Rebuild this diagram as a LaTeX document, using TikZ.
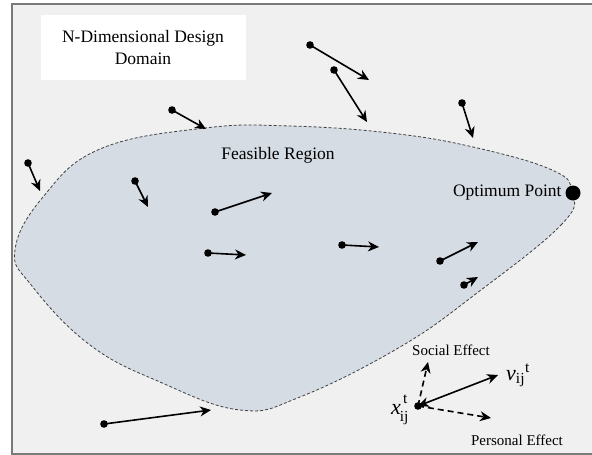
\documentclass[tikz,border=0pt]{standalone}
\usepackage{fontspec}
\setmainfont{Liberation Serif}
\usetikzlibrary{arrows.meta,calc,positioning}
\definecolor{domaingray}{HTML}{F0F0F0}
\definecolor{feasblue}{HTML}{D6DCE4}
\definecolor{framegray}{HTML}{7A7A7A}
\tikzset{
  move/.style={line width=1.6pt,-{Stealth[length=11pt,width=10pt,inset=3.5pt]}},
  effect/.style={move,dash pattern=on 6pt off 4pt},
  bound/.style={draw=black!75,line width=0.8pt,dash pattern=on 3pt off 2pt},
  lbl/.style={font=\fontsize{17.5}{22}\selectfont},
  small/.style={font=\fontsize{15}{18}\selectfont},
  sym/.style={inner sep=0pt,font=\fontsize{22}{24}\selectfont}
}
\newcommand{\particle}[1]{\fill (#1) circle (3.8pt)}
\begin{document}
\begin{tikzpicture}[x=1pt,y=-1pt]
\useasboundingbox (0,0) rectangle (592,455);
\fill[white] (0,0) rectangle (592,455);
\fill[domaingray] (12,3) rectangle (592,454);
\draw[framegray,line width=2pt] (592,3.5) -- (12,3.5) -- (12,454) -- (592,454);
\node[fill=white,minimum width=205pt,minimum height=65pt,align=center,lbl] (domain) at (143,47.5) {N-Dimensional Design\\Domain};
% feasible region
\draw[bound,fill=feasblue] plot[smooth cycle,tension=0.7] coordinates {
  (572,192) (562,224) (477,293) (400,347) (300,397) (240,410) (160,382)
  (90,345) (32,286) (15,250) (43,197) (100,149) (205,128) (290,126)
  (390,133) (473,147) (552,170)};
\node[lbl] (feas) at (278,155) {Feasible Region};
\coordinate (O) at (573,193);
\fill (O) circle (7.5pt);
\node[lbl,left=8pt of O] (opt) {Optimum Point};
% particles and their moves
\coordinate (p1) at (172,110);  \coordinate (q1) at (206,129);
\coordinate (p2) at (28,163);   \coordinate (q2) at (40,191);
\coordinate (p3) at (135,181);  \coordinate (q3) at (148,207);
\coordinate (p4) at (215,212);  \coordinate (q4) at (272,193);
\coordinate (p5) at (310,45);   \coordinate (q5) at (369,80);
\coordinate (p6) at (334,70);   \coordinate (q6) at (367,122);
\coordinate (p7) at (462,103);  \coordinate (q7) at (473,138);
\coordinate (p8) at (208,253);  \coordinate (q8) at (246,255);
\coordinate (p9) at (104,424);  \coordinate (q9) at (211,410);
\coordinate (p10) at (342,245); \coordinate (q10) at (379,247);
\coordinate (p11) at (440,261); \coordinate (q11) at (478,242);
\coordinate (p12) at (464,285); \coordinate (q12) at (478,277);
\draw[move] (p1) -- (q1);
\draw[move] (p2) -- (q2);
\draw[move] (p3) -- (q3);
\draw[move] (p4) -- (q4);
\draw[move] (p5) -- (q5);
\draw[move] (p6) -- (q6);
\draw[move] (p7) -- (q7);
\draw[move] (p8) -- (q8);
\draw[move] (p9) -- (q9);
\draw[move] (p10) -- (q10);
\draw[move] (p11) -- (q11);
\draw[move] (p12) -- (q12);
\particle{p1}; \particle{p2}; \particle{p3}; \particle{p4};
\particle{p5}; \particle{p6}; \particle{p7}; \particle{p8};
\particle{p9}; \particle{p10}; \particle{p11}; \particle{p12};
% velocity update legend
\coordinate (X) at (418,406);
\coordinate (V) at (498,375);
\coordinate (S) at (428,362);
\coordinate (P) at (491,418);
\draw[move,{Stealth[length=11pt,width=10pt,inset=3.5pt]}-{Stealth[length=11pt,width=10pt,inset=3.5pt]}] (X) -- (V);
\draw[effect] (X) -- (S);
\draw[effect] (X) -- (P);
\particle{X};
\node[small] (soc) at (451,350) {Social Effect};
\node[small] (pers) at (517,440) {Personal Effect};
\node[sym,anchor=base west] (vlbl) at (506,380) {\textit{v}\textsubscript{ij}\textsuperscript{t}};
\node[sym,anchor=base east] (xlbl) at (408,414) {\textit{x}\kern-1pt\raisebox{-4pt}{\textsubscript{ij}}\kern-6pt\raisebox{3pt}{\textsuperscript{t}}};
\end{tikzpicture}
\end{document}
